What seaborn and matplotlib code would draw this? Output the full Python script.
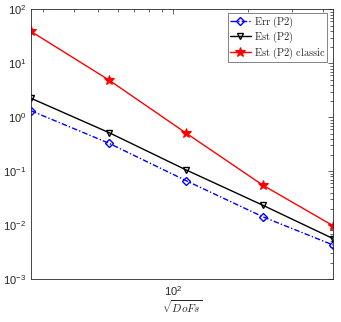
import matplotlib
matplotlib.use("Agg")
import matplotlib.pyplot as plt
import matplotlib.ticker as mticker
import seaborn as sns

# datos
dofs = [26.9, 55.3, 112.8, 229.8, 439.5]
err_p2 = [1.32, 0.33, 0.067, 0.0143, 0.0043]
est_p2 = [2.25, 0.52, 0.106, 0.0234, 0.00565]
est_p2_classic = [39.0, 4.9, 0.51, 0.055, 0.0098]

sns.set_style("white")
plt.rcParams['font.family'] = ['Liberation Sans', 'DejaVu Sans']
plt.rcParams['mathtext.fontset'] = 'cm'

fig = plt.figure(figsize=(3.41, 3.22), dpi=100)
ax = fig.add_axes([0.091, 0.133, 0.886, 0.838])

sns.lineplot(x=dofs, y=err_p2, ax=ax, color='blue', lw=1,
             dashes=(4, 1.5, 1, 1.5),
             marker='D', markersize=4, markerfacecolor='none',
             markeredgecolor='blue', markeredgewidth=1,
             label=r'$\mathrm{Err\ (P2)}$')
sns.lineplot(x=dofs, y=est_p2, ax=ax, color='black', linestyle='-', lw=1,
             marker='v', markersize=5, markerfacecolor='none',
             markeredgecolor='black', markeredgewidth=1,
             label=r'$\mathrm{Est\ (P2)}$')
sns.lineplot(x=dofs, y=est_p2_classic, ax=ax, color='red', linestyle='-', lw=1,
             marker='*', markersize=7, markerfacecolor='red',
             markeredgecolor='red',
             label=r'$\mathrm{Est\ (P2)\ classic}$')

ax.set_xscale('log')
ax.set_yscale('log')
ax.set_xlim(26.9, 440)
ax.set_ylim(1e-3, 1e2)

ax.xaxis.set_major_locator(mticker.FixedLocator([100]))
ax.xaxis.set_minor_locator(mticker.LogLocator(base=10, subs=range(2, 10), numticks=20))
ax.xaxis.set_minor_formatter(mticker.NullFormatter())
ax.yaxis.set_major_locator(mticker.LogLocator(base=10, numticks=10))
ax.yaxis.set_minor_locator(mticker.LogLocator(base=10, subs=range(2, 10), numticks=20))
ax.yaxis.set_minor_formatter(mticker.NullFormatter())

ax.tick_params(which='both', direction='in', top=True, right=True, labelsize=8,
               color='#262626', labelcolor='#262626')
ax.tick_params(which='major', length=3.5, width=0.5)
ax.tick_params(which='minor', length=2, width=0.5)
for s in ax.spines.values():
    s.set_linewidth(0.6)
    s.set_color('#262626')

ax.set_xlabel(r'$\sqrt{DoFs}$', fontsize=8, labelpad=0)

leg = ax.legend(loc='upper right', bbox_to_anchor=(0.98, 0.986), fontsize=7.5,
                frameon=True, fancybox=False, borderpad=0.15, handlelength=2.0,
                handletextpad=0.3, labelspacing=0.0, borderaxespad=0)
leg.get_frame().set_edgecolor('#262626')
leg.get_frame().set_linewidth(0.5)

fig.savefig('out.png', dpi=100)
